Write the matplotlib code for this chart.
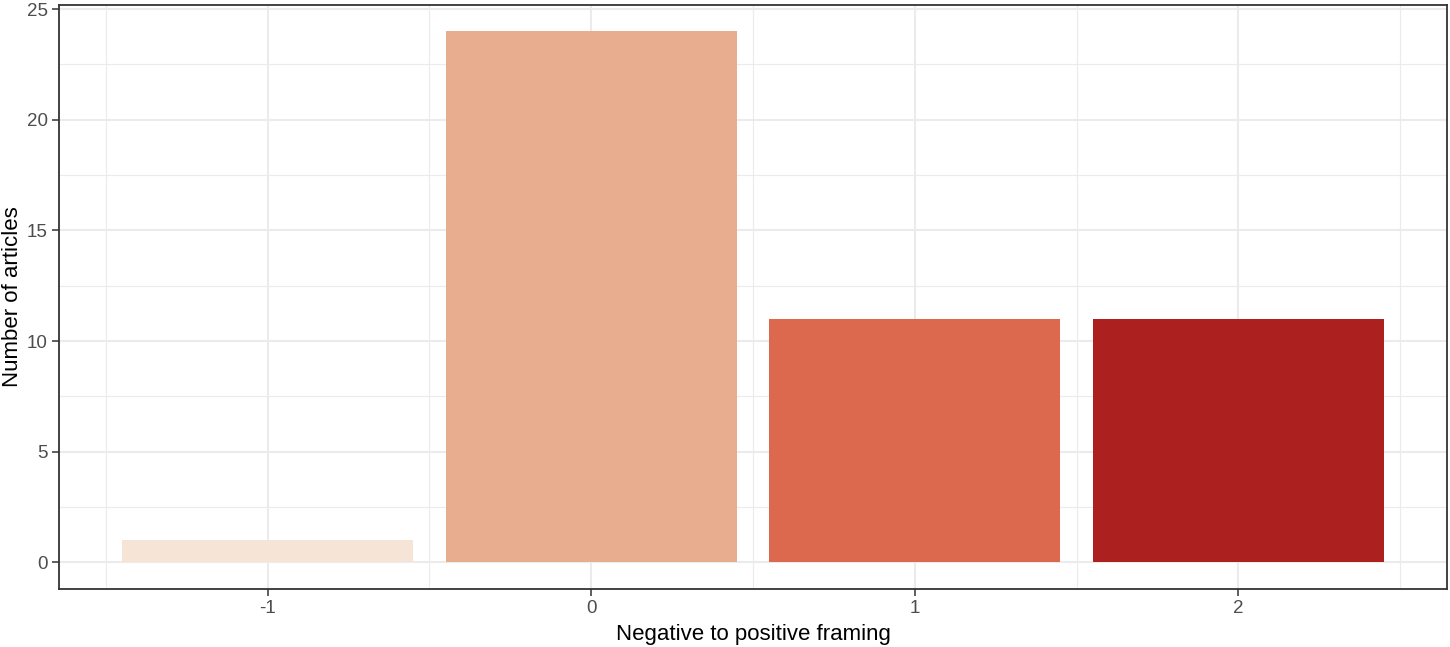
import matplotlib
matplotlib.use("Agg")
import matplotlib.pyplot as plt
from matplotlib.ticker import FixedLocator

categories = [-1, 0, 1, 2]
counts = [1, 24, 11, 11]
colors = ["#F6E4D7", "#E8AC8F", "#DC694D", "#AC2120"]
x_ticks = [-1, 0, 1, 2]
y_ticks = [0, 5, 10, 15, 20, 25]

plt.rcParams['font.family'] = ['Liberation Sans', 'DejaVu Sans']
plt.rcParams['axes.unicode_minus'] = False

fig = plt.figure(figsize=(14.5, 6.47), dpi=100)
ax = fig.add_axes([59/1450, 1 - 589/647, (1447-59)/1450, (589-4.6)/647])

ax.bar(categories, counts, width=0.9, color=colors, edgecolor="none", zorder=3)

ax.set_xlim(-1.645, 2.645)
ax.set_ylim(-1.2, 25.2)
ax.xaxis.set_major_locator(FixedLocator(x_ticks))
ax.yaxis.set_major_locator(FixedLocator(y_ticks))
ax.xaxis.set_minor_locator(FixedLocator([-1.5, -0.5, 0.5, 1.5, 2.5]))
ax.yaxis.set_minor_locator(FixedLocator([2.5, 7.5, 12.5, 17.5, 22.5]))

ax.grid(which="major", color="#EBEBEB", linewidth=1.5, zorder=0)
ax.grid(which="minor", color="#EBEBEB", linewidth=0.8, zorder=0)
ax.set_axisbelow(True)

ax.tick_params(which="major", length=5, width=1.1, color="#333333",
               labelsize=13.5, labelcolor="#4D4D4D", pad=3)
ax.tick_params(which="minor", length=0)

for s in ax.spines.values():
    s.set_color("#333333")
    s.set_linewidth(1.3)

ax.set_xlabel("Negative to positive framing", fontsize=16, color="black", labelpad=5)
ax.set_ylabel("Number of articles", fontsize=16, color="black", labelpad=3)

fig.savefig("out.png", dpi=100)
